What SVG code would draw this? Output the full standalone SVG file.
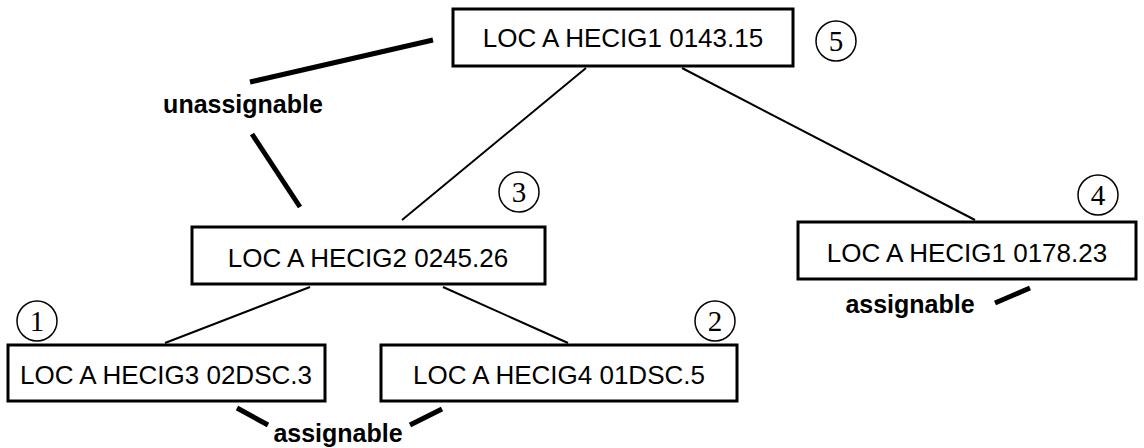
<svg xmlns="http://www.w3.org/2000/svg" width="1144" height="448" viewBox="0 0 1144 448">
<style>
.box{fill:#fff;stroke:#000;stroke-width:3}
.t{font-family:"Liberation Sans",Arial,sans-serif;font-size:26px;text-anchor:middle;fill:#000}
.lbl{font-family:"Liberation Sans",Arial,sans-serif;font-size:25px;font-weight:bold;text-anchor:middle;fill:#000}
.num{font-family:"Liberation Serif","Times New Roman",serif;font-size:29px;text-anchor:middle;fill:#000}
.c{fill:none;stroke:#000;stroke-width:1.5}
.thin{stroke:#000;stroke-width:2;fill:none}
.thick{stroke:#000;stroke-width:5;fill:none}
</style>
<rect width="1144" height="448" fill="#fff"/>
<g id="connectors">
<line class="thin" x1="586" y1="68" x2="402" y2="220"/>
<line class="thin" x1="682" y1="68" x2="975" y2="220"/>
<line class="thin" x1="310" y1="287" x2="165" y2="343"/>
<line class="thin" x1="443" y1="287" x2="568" y2="343"/>
<line class="thick" x1="250" y1="82" x2="433" y2="40"/>
<line class="thick" x1="252" y1="134" x2="300" y2="207"/>
<line class="thick" x1="237" y1="408" x2="268" y2="425"/>
<line class="thick" x1="410" y1="425" x2="442" y2="409"/>
<line class="thick" x1="995" y1="303" x2="1030" y2="288"/>
</g>
<g id="node5">
<rect class="box" x="453" y="9" width="340" height="57"/>
<text class="t" x="623" y="47">LOC A HECIG1 0143.15</text>
<circle class="c" cx="836" cy="41" r="20"/>
<text class="num" x="836" y="51">5</text>
</g>
<g id="node3">
<rect class="box" x="192" y="227" width="353" height="57"/>
<text class="t" x="368" y="267">LOC A HECIG2 0245.26</text>
<circle class="c" cx="519" cy="192" r="20"/>
<text class="num" x="519" y="202">3</text>
</g>
<g id="node4">
<rect class="box" x="798" y="222" width="338" height="57"/>
<text class="t" x="967" y="262">LOC A HECIG1 0178.23</text>
<circle class="c" cx="1098" cy="195" r="20"/>
<text class="num" x="1098" y="205">4</text>
</g>
<g id="node1">
<rect class="box" x="8" y="345" width="317" height="56"/>
<text class="t" x="166" y="384">LOC A HECIG3 02DSC.3</text>
<circle class="c" cx="37" cy="321" r="20"/>
<text class="num" x="37" y="331">1</text>
</g>
<g id="node2">
<rect class="box" x="381" y="345" width="356" height="56"/>
<text class="t" x="559" y="384">LOC A HECIG4 01DSC.5</text>
<circle class="c" cx="715" cy="321" r="20"/>
<text class="num" x="715" y="331">2</text>
</g>
<g id="labels">
<text class="lbl" x="243" y="113">unassignable</text>
<text class="lbl" x="338" y="442">assignable</text>
<text class="lbl" x="910" y="313">assignable</text>
</g>
</svg>
